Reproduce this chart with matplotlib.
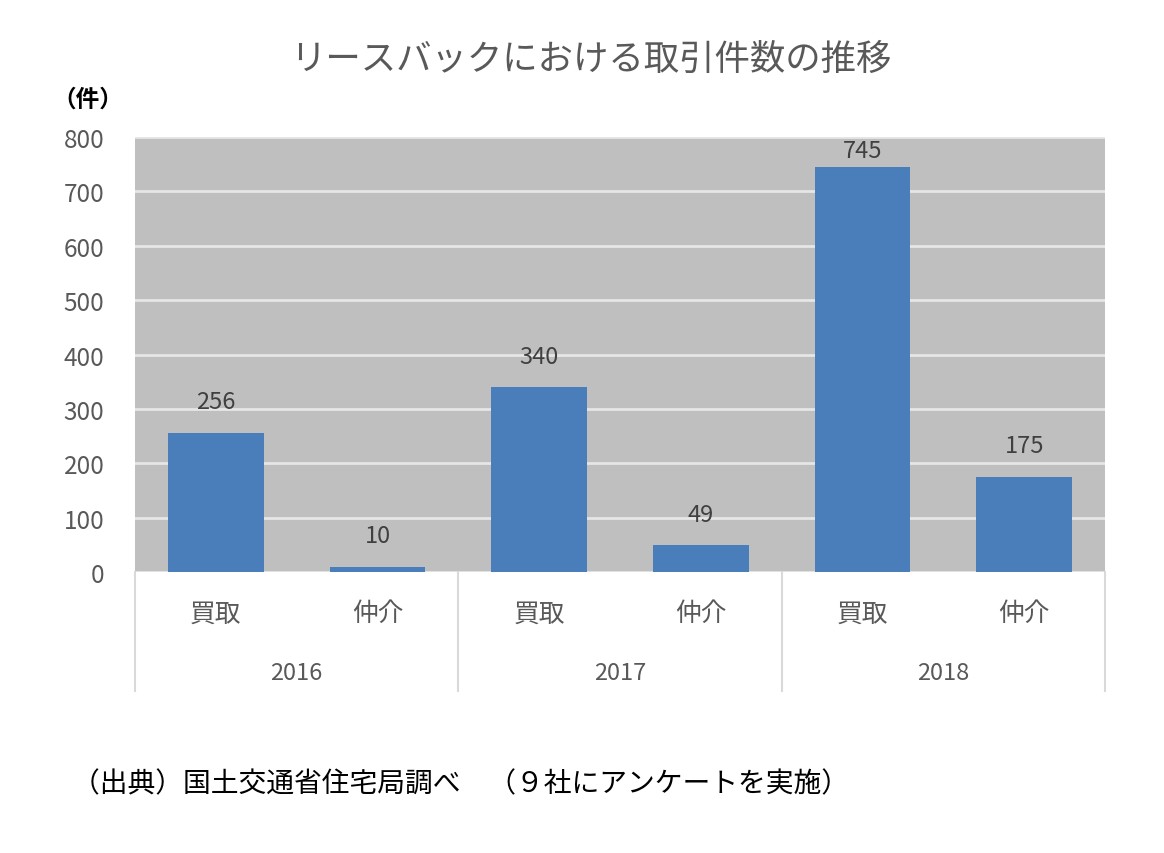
import matplotlib
matplotlib.use("Agg")
import matplotlib.pyplot as plt
import matplotlib.transforms as mtransforms

plt.rcParams['font.family'] = ['Noto Sans CJK JP', 'DejaVu Sans']

years = ['2016', '2017', '2018']
kinds = ['買取', '仲介']
counts = [256, 10, 340, 49, 745, 175]
yticks = [0, 100, 200, 300, 400, 500, 600, 700, 800]

title = 'リースバックにおける取引件数の推移'
unit = '（件）'
source = '（出典）国土交通省住宅局調べ　（９社にアンケートを実施）'

fig = plt.figure(figsize=(11.64, 8.54), dpi=100)
ax = fig.add_axes([0.116, 0.329, 0.8333, 0.5094])
ax.set_facecolor('#bfbfbf')

x = [i + 0.5 for i in range(len(counts))]
ax.bar(x, counts, width=0.59, color='#4a7ebb', zorder=3)
# labels sit above the bar, but are kept inside the plot area
for xi, v in zip(x, counts):
    ax.text(xi, min(v + 57, 776), str(v), ha='center', va='center',
            fontsize=17, color='#404040', zorder=4)

ax.set_xlim(0, len(counts))
ax.set_ylim(0, 800)
ax.set_yticks(yticks)
ax.set_yticklabels([str(t) for t in yticks], fontsize=17.5, color='#595959')
ax.tick_params(axis='y', length=0, pad=22)
ax.set_xticks([])
ax.grid(axis='y', color='#e6e6e6', linewidth=2, zorder=1)
for s in ax.spines.values():
    s.set_visible(False)

# two level category axis
trans = mtransforms.blended_transform_factory(ax.transData, ax.transAxes)
for i, xi in enumerate(x):
    ax.text(xi, -0.095, kinds[i % 2], transform=trans, ha='center', va='center',
            fontsize=18.5, color='#595959')
for j, yr in enumerate(years):
    ax.text(2 * j + 1, -0.23, yr, transform=trans, ha='center', va='center',
            fontsize=17, color='#595959')
for j in range(len(years) + 1):
    ax.plot([2 * j, 2 * j], [0, -0.273], transform=trans, color='#d9d9d9',
            linewidth=1.5, clip_on=False)

fig.text(0.508, 0.93, title, ha='center', va='center', fontsize=25.5, color='#595959')
fig.text(0.045, 0.883, unit, ha='left', va='center', fontsize=17, color='black',
         fontweight='bold')
fig.text(0.062, 0.081, source, ha='left', va='center', fontsize=20, color='black')

fig.savefig('out.png', dpi=100)
